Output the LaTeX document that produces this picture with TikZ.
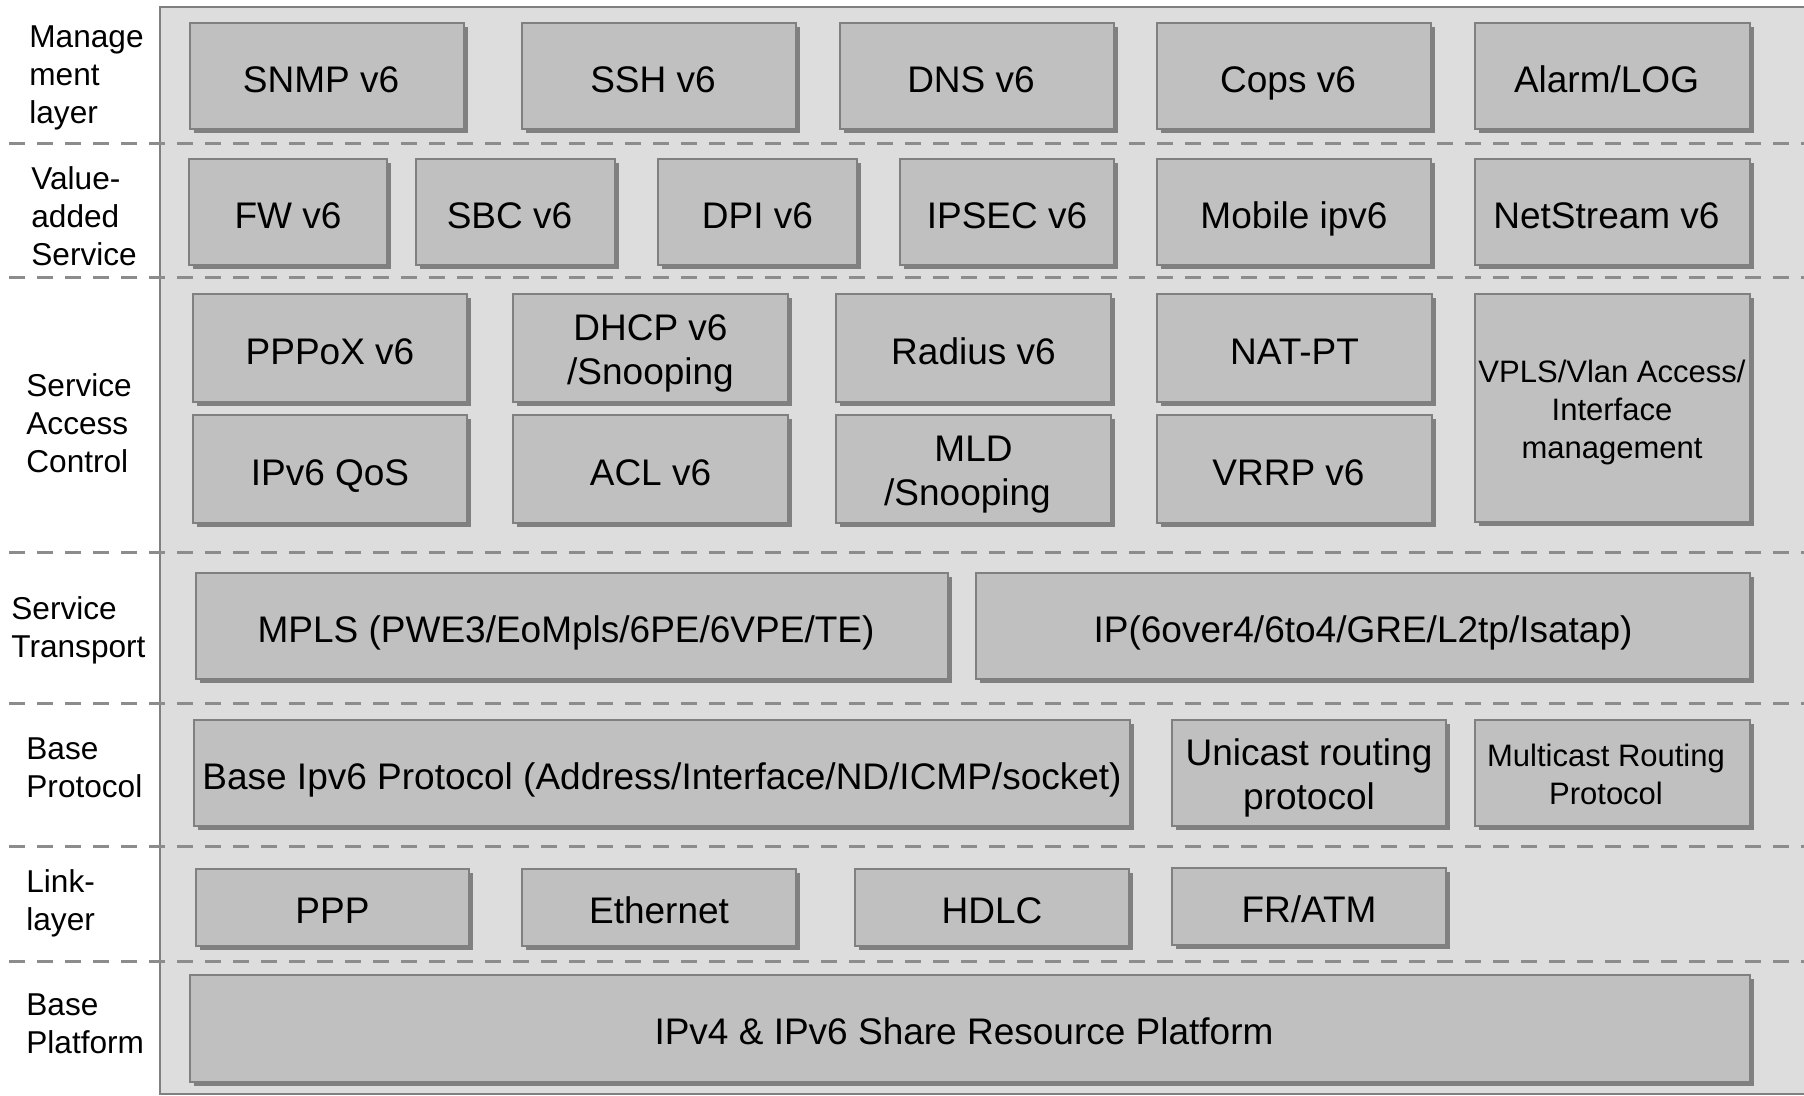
\documentclass[tikz,border=0pt]{standalone}
\usepackage{fontspec}
\setmainfont{Liberation Sans}
\usetikzlibrary{shadows}
\definecolor{panelgray}{HTML}{DDDDDD}
\definecolor{boxgray}{HTML}{C0C0C0}
\definecolor{linegray}{HTML}{808080}
\definecolor{dashgray}{HTML}{8C8C8C}
\newcommand{\linestrut}{\rule[-.212em]{0pt}{1.312em}}
\newcommand{\fstrut}{\rule{0pt}{1.0em}}
\newcommand{\shl}{\kern6pt}
\tikzset{
    blk/.style={draw=linegray, fill=boxgray, line width=1pt, align=center, inner sep=0pt,
        drop shadow={shadow xshift=2pt, shadow yshift=-2pt, fill=linegray, opacity=1},
        font=\fontsize{18.5}{22}\selectfont,
        execute at begin node=\linestrut, execute at end node=\linestrut},
    smalltxt/.style={font=\fontsize{15.5}{19}\selectfont},
    layer/.style={anchor=west, align=left, inner sep=0pt, font=\fontsize{15.8}{19}\selectfont},
    sep/.style={dashgray, line width=1.5pt, dash pattern=on 8pt off 6pt},
}
\begin{document}
\begin{tikzpicture}[x=0.5pt, y=-0.5pt]
    \fill [white] (0,0) rectangle (1804,1096);
    \useasboundingbox (0,0) rectangle (1804,1096);
    \draw [linegray, fill=panelgray, line width=1pt] (160,7) rectangle (1812,1094);
    \foreach \y in {144,278,552,703,846,961}
        \draw [sep] (9,\y) -- (1804,\y);
    \node [layer] (mgmt) at (29,78) {Manage\\ment\\layer};
    \node [layer] (vas) at (31,216) {Value-\\added\\Service};
    \node [layer] (sac) at (26,423) {Service\\Access\\Control};
    \node [layer] (stp) at (11,630) {Service\\Transport};
    \node [layer] (bpr) at (26,768) {Base\\Protocol};
    \node [layer] (lnk) at (26,903) {Link-\\layer};
    \node [layer] (bpl) at (26,1024) {Base\\Platform};
    \foreach \nm/\xa/\xb/\ya/\yb/\txt in {
            snmp/190/464/23/129/SNMP v6\shl, ssh/522/796/23/129/SSH v6\shl, dns/840/1114/23/129/DNS v6\shl,
            cops/1157/1431/23/129/Cops v6\shl, alarm/1475/1750/23/129/{Alarm/LOG\shl},
            fw/189/387/159/265/FW v6, sbc/416/615/159/265/SBC v6\shl, dpi/658/857/159/265/DPI v6,
            ipsec/900/1114/159/265/IPSEC v6, mip/1157/1431/159/265/Mobile ipv6, nstr/1475/1750/159/265/NetStream v6\shl,
            pppox/193/467/294/402/PPPoX v6, dhcp/513/788/294/402/{\fstrut DHCP v6\\/Snooping},
            radius/836/1111/294/402/Radius v6, natpt/1157/1432/294/402/NAT-PT,
            qos/193/467/415/523/IPv6 QoS, acl/513/788/415/523/ACL v6,
            mld/836/1111/415/523/{\fstrut MLD\\/Snooping\shl}, vrrp/1157/1432/415/523/VRRP v6\shl,
            mpls/196/948/573/679/{MPLS (PWE3/EoMpls/6PE/6VPE/TE)\shl},
            iptun/976/1750/573/679/{IP(6over4/6to4/GRE/L2tp/Isatap)},
            bipv6/194/1130/720/826/{Base Ipv6 Protocol (Address/Interface/ND/ICMP/socket)},
            ucast/1172/1446/720/826/{\fstrut Unicast routing\\protocol},
            ppp/196/469/869/946/PPP, eth/522/796/869/946/Ethernet, hdlc/855/1129/869/946/HDLC,
            fratm/1172/1446/868/945/{FR/ATM},
            share/190/1750/975/1082/{IPv4 \& IPv6 Share Resource Platform\shl}}
        \node [blk, minimum width={(\xb-\xa)*0.5pt}, minimum height={(\yb-\ya)*0.5pt}]
            (\nm) at ({(\xa+\xb)/2},{(\ya+\yb)/2}) {\txt};
    \node [blk, smalltxt, minimum width=137.5pt, minimum height=114pt] (vpls) at (1612,408)
        {\fstrut VPLS/Vlan Access/\\Interface\\management};
    \node [blk, smalltxt, minimum width=137.5pt, minimum height=53pt] (mcast) at (1612,773)
        {\fstrut Multicast Routing\shl\\Protocol\shl};
\end{tikzpicture}
\end{document}
